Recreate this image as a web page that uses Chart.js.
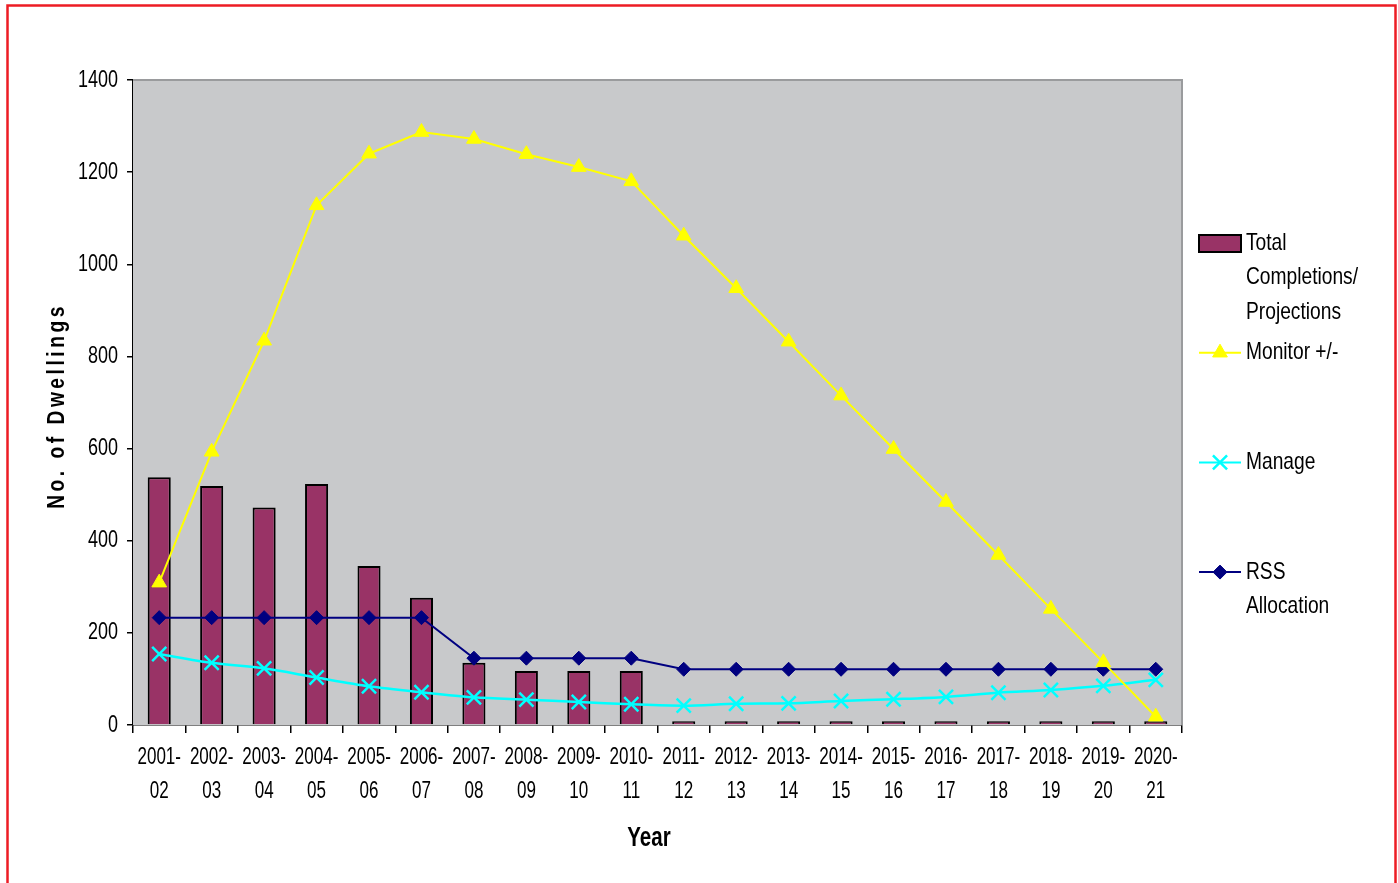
<!DOCTYPE html>
<html>
<head>
<meta charset="utf-8">
<title>Dwellings by Year</title>
<script src="https://cdn.jsdelivr.net/npm/chart.js@4.4.1/dist/chart.umd.min.js"></script>
<style>
  html, body { margin: 0; padding: 0; background: #ffffff; }
  #wrap { position: relative; width: 1398px; height: 883px; }
</style>
</head>
<body>
<div id="wrap"><canvas id="chart" width="1398" height="883"></canvas></div>
<script>
// Financial years shown along the x axis
const years = ['2001-02', '2002-03', '2003-04', '2004-05', '2005-06', '2006-07', '2007-08',
  '2008-09', '2009-10', '2010-11', '2011-12', '2012-13', '2013-14', '2014-15', '2015-16',
  '2016-17', '2017-18', '2018-19', '2019-20', '2020-21'];

// Series values (number of dwellings)
const completions = [538, 519, 472, 523, 345, 276, 135, 117, 117, 117, 8, 8, 8, 8, 8, 8, 8, 8, 8, 8];
const monitor = [309, 593, 834, 1128, 1240, 1287, 1272, 1239, 1211, 1180, 1062, 948, 832, 715, 599, 484, 369, 252, 136, 18];
const manage = [154, 135, 123, 103, 84, 71, 60, 55, 50, 45, 42, 46, 47, 52, 56, 61, 70, 76, 85, 98];
const rss = [233, 233, 233, 233, 233, 233, 145, 145, 145, 145, 121, 121, 121, 121, 121, 121, 121, 121, 121, 121];

// Axis ticks and legend text
const yTicks = [0, 200, 400, 600, 800, 1000, 1200, 1400];
const legendLines = [
  ['Total', 'Completions/', 'Projections'],
  ['Monitor +/-'],
  ['Manage'],
  ['RSS', 'Allocation']
];

const FONT = '"Liberation Sans", Arial, Helvetica, sans-serif';

// Split "2001-02" into two lines: "2001-" and "02"
const categoryLabels = years.map(y => {
  const i = y.indexOf('-');
  return [y.slice(0, i + 1), y.slice(i + 1)];
});

const PLOT_BG = '#c8c9cb';

// Condensed text: regular face squeezed horizontally
function narrowText(ctx, text, x, y, opts) {
  const o = Object.assign({ size: 24, sx: 0.8, weight: 'normal', align: 'left', spacing: 0 }, opts);
  ctx.save();
  ctx.translate(x, y);
  ctx.scale(o.sx, 1);
  ctx.font = o.weight + ' ' + o.size + 'px ' + FONT;
  ctx.textAlign = o.align;
  ctx.textBaseline = 'middle';
  if (o.spacing && 'letterSpacing' in ctx) ctx.letterSpacing = o.spacing + 'px';
  ctx.fillStyle = '#000';
  ctx.fillText(text, 0, 0);
  ctx.restore();
}

// Grey plot area with darker top/right edge, plus the red page frame
const framePlugin = {
  id: 'frame',
  beforeDatasetsDraw(chart) {
    const { ctx, chartArea: a } = chart;
    ctx.save();
    ctx.fillStyle = PLOT_BG;
    ctx.fillRect(a.left, a.top, a.right - a.left, a.bottom - a.top);
    ctx.strokeStyle = '#9a9b9d';
    ctx.lineWidth = 2;
    ctx.beginPath();
    ctx.moveTo(a.left, a.top);
    ctx.lineTo(a.right, a.top);
    ctx.lineTo(a.right, a.bottom);
    ctx.stroke();
    ctx.restore();
  },
  afterDraw(chart) {
    const { ctx } = chart;
    ctx.save();
    ctx.strokeStyle = '#ed1c24';
    ctx.lineWidth = 2.5;
    ctx.beginPath();
    ctx.moveTo(7.5, 900);
    ctx.lineTo(7.5, 5.5);
    ctx.lineTo(1395.5, 5.5);
    ctx.lineTo(1395.5, 900);
    ctx.stroke();
    ctx.restore();
  }
};

// Tick labels placed from the scales, set in a condensed style
const tickLabelPlugin = {
  id: 'tickLabels',
  afterDraw(chart) {
    const { ctx } = chart;
    const xs = chart.scales.x, ys = chart.scales.y;
    xs.ticks.forEach((t, i) => {
      const px = xs.getPixelForTick(i);
      const lines = chart.data.labels[i];
      lines.forEach((s, k) => narrowText(ctx, s, px, 757 + k * 34, { size: 24, sx: 0.71, align: 'center' }));
    });
    ys.ticks.forEach(t => {
      const py = ys.getPixelForValue(t.value);
      narrowText(ctx, String(t.value), 118, py, { size: 24, sx: 0.75, align: 'right' });
    });
  }
};

// Axis titles: spaced-out vertical y title and the "Year" caption
const titlesPlugin = {
  id: 'titles',
  afterDraw(chart) {
    const { ctx } = chart;
    ctx.save();
    ctx.translate(57, 408);
    ctx.rotate(-Math.PI / 2);
    narrowText(ctx, 'No. of Dwellings', 2, 0, { size: 24, sx: 0.8, weight: 'bold', align: 'center', spacing: 4.4 });
    ctx.restore();
    narrowText(ctx, 'Year', 649, 839, { size: 27, sx: 0.76, weight: 'bold', align: 'center' });
  }
};

// Legend on the right, drawn from the dataset styles
const legendPlugin = {
  id: 'sideLegend',
  afterDraw(chart) {
    const { ctx } = chart;
    const ds = chart.data.datasets;
    const symL = 1199, symR = 1241, textX = 1246;
    const firstY = 243, entryStep = 109.7, lineStep = 34.5;
    ds.forEach((d, i) => {
      const y = firstY + i * entryStep;
      ctx.save();
      if (d.type === 'bar') {
        ctx.fillStyle = d.backgroundColor;
        ctx.fillRect(symL, y - 8, symR - symL, 17);
        ctx.strokeStyle = '#000';
        ctx.lineWidth = 2;
        ctx.strokeRect(symL, y - 8, symR - symL, 17);
      } else {
        ctx.strokeStyle = d.borderColor;
        ctx.lineWidth = 2;
        ctx.beginPath();
        ctx.moveTo(symL, y);
        ctx.lineTo(symR, y);
        ctx.stroke();
        ctx.fillStyle = d.pointBackgroundColor;
        ctx.strokeStyle = d.pointBorderColor;
        ctx.lineWidth = d.pointBorderWidth;
        Chart.helpers.drawPoint(ctx, {
          pointStyle: d.pointStyle,
          radius: d.pointRadius,
          borderWidth: d.pointBorderWidth
        }, (symL + symR) / 2, y);
      }
      ctx.restore();
      legendLines[i].forEach((t, k) => narrowText(ctx, t, textX, y + k * lineStep, { size: 24, sx: 0.8 }));
    });
  }
};

new Chart(document.getElementById('chart'), {
  data: {
    labels: categoryLabels,
    datasets: [
      {
        type: 'bar',
        label: legendLines[0].join(' '),
        data: completions,
        backgroundColor: '#993366',
        borderColor: '#000000',
        borderWidth: 2,
        borderSkipped: 'bottom',
        barPercentage: 0.44,
        categoryPercentage: 1.0,
        order: 4
      },
      {
        type: 'line',
        label: legendLines[1].join(' '),
        data: monitor,
        borderColor: '#ffff00',
        borderWidth: 2,
        pointStyle: 'triangle',
        pointRadius: 8.5,
        pointBackgroundColor: '#ffff00',
        pointBorderColor: '#ffff00',
        pointBorderWidth: 1,
        tension: 0,
        order: 1
      },
      {
        type: 'line',
        label: legendLines[2].join(' '),
        data: manage,
        borderColor: '#00ffff',
        borderWidth: 2.5,
        pointStyle: 'crossRot',
        pointRadius: 10,
        pointBackgroundColor: '#00ffff',
        pointBorderColor: '#00ffff',
        pointBorderWidth: 2.5,
        tension: 0.3,
        order: 2
      },
      {
        type: 'line',
        label: legendLines[3].join(' '),
        data: rss,
        borderColor: '#000080',
        borderWidth: 2,
        pointStyle: 'rectRot',
        pointRadius: 7,
        pointBackgroundColor: '#000080',
        pointBorderColor: '#000080',
        pointBorderWidth: 1,
        tension: 0,
        order: 3
      }
    ]
  },
  options: {
    responsive: false,
    animation: false,
    devicePixelRatio: 1,
    layout: { padding: { left: 0, top: 80, right: 216, bottom: 0 } },
    plugins: {
      legend: { display: false },
      tooltip: { enabled: false },
      title: { display: false }
    },
    scales: {
      x: {
        type: 'category',
        offset: true,
        grid: {
          offset: true,
          drawOnChartArea: false,
          drawTicks: true,
          tickLength: 8,
          color: '#000000',
          lineWidth: 1.5
        },
        border: { display: true, color: '#000000', width: 1.5 },
        ticks: { display: false, autoSkip: false, maxRotation: 0, minRotation: 0 },
        afterFit(scale) { scale.height = 158; }
      },
      y: {
        type: 'linear',
        min: yTicks[0],
        max: yTicks[yTicks.length - 1],
        afterBuildTicks(scale) { scale.ticks = yTicks.map(v => ({ value: v })); },
        grid: {
          drawOnChartArea: false,
          drawTicks: true,
          tickLength: 6,
          color: '#000000',
          lineWidth: 1.5
        },
        border: { display: true, color: '#000000', width: 1.5 },
        ticks: { display: false },
        afterFit(scale) { scale.width = 133; }
      }
    }
  },
  plugins: [framePlugin, tickLabelPlugin, titlesPlugin, legendPlugin]
});
</script>
</body>
</html>
